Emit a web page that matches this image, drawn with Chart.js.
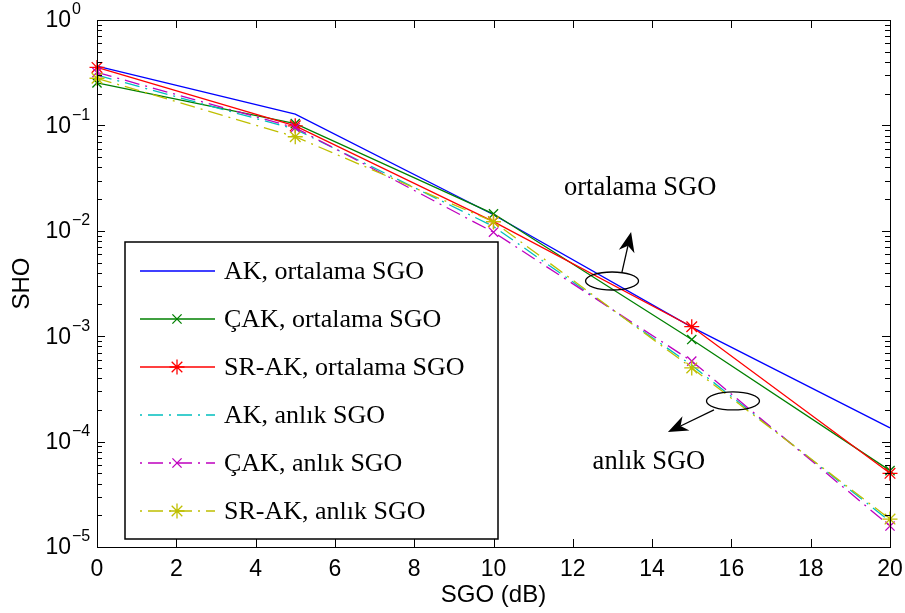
<!DOCTYPE html>
<html>
<head>
<meta charset="utf-8">
<script src="https://cdn.jsdelivr.net/npm/chart.js@4/dist/chart.umd.min.js"></script>
<style>
  html, body { margin: 0; padding: 0; background: #fff; }
  #wrap { width: 905px; height: 613px; position: relative; }
</style>
</head>
<body>
<div id="wrap"><canvas id="chart"></canvas></div>
<script>
// SGO values (dB)
const sgo = [0, 5, 10, 15, 20];

// SHO values
const akOrtalama   = [0.366, 0.128, 0.0142, 0.00122, 0.000135];
const cakOrtalama  = [0.253, 0.104, 0.0145, 0.00093, 0.000053];
const srakOrtalama = [0.355, 0.099, 0.0122, 0.00123, 0.000050];
const akAnlik      = [0.300, 0.092, 0.0110, 0.00053, 0.0000175];
const cakAnlik     = [0.318, 0.095, 0.0097, 0.00058, 0.0000158];
const srakAnlik    = [0.280, 0.078, 0.0122, 0.00050, 0.0000184];

const seriesLabels = [
  'AK, ortalama SGO', 'ÇAK, ortalama SGO', 'SR-AK, ortalama SGO',
  'AK, anlık SGO', 'ÇAK, anlık SGO', 'SR-AK, anlık SGO'
];

const xTicks = [0, 2, 4, 6, 8, 10, 12, 14, 16, 18, 20];
const yDecades = [-5, -4, -3, -2, -1, 0];

const DASHDOT = [15, 6, 2, 6];
const SANS = '"Liberation Sans", Arial, sans-serif';
const SERIF = '"Liberation Serif", "Times New Roman", serif';

const toPoints = (ys) => sgo.map((x, i) => ({ x: x, y: ys[i] }));

const seriesDefs = [
  { data: akOrtalama,   color: '#0000ff', dash: [],      marker: false },
  { data: cakOrtalama,  color: '#008000', dash: [],      marker: 'crossRot' },
  { data: srakOrtalama, color: '#ff0000', dash: [],      marker: 'star' },
  { data: akAnlik,      color: '#00bfbf', dash: DASHDOT, marker: false },
  { data: cakAnlik,     color: '#bf00bf', dash: DASHDOT, marker: 'crossRot' },
  { data: srakAnlik,    color: '#bfbf00', dash: DASHDOT, marker: 'star' },
];

const datasets = seriesDefs.map((s, i) => ({
  label: seriesLabels[i],
  data: toPoints(s.data),
  borderColor: s.color,
  backgroundColor: s.color,
  borderWidth: 1.3,
  borderDash: s.dash,
  pointStyle: s.marker || 'circle',
  pointRadius: s.marker ? (s.marker === 'star' ? 7.5 : 6.5) : 0,
  pointBorderWidth: 1.3,
  pointBorderColor: s.color,
  pointHoverRadius: 0,
  tension: 0,
  clip: false,
  order: 6 - i,
}));

// annotation anchors in data units (SGO, SHO)
const ellipses = [
  { x: 12.99, y: 3.34e-3 },
  { x: 16.04, y: 2.43e-4 },
];
const arrows = [
  { from: { x: 13.24, y: 4.06e-3 }, to: { x: 13.47, y: 9.74e-3 } },
  { from: { x: 15.56, y: 2.0e-4 },  to: { x: 14.40, y: 1.23e-4 } },
];
const notes = [
  { text: 'ortalama SGO', x: 13.70, y: 0.0255 },
  { text: 'anlık SGO',    x: 13.92, y: 6.4e-5 },
];

function drawMarker(ctx, style, x, y, r) {
  ctx.beginPath();
  if (style === 'crossRot' || style === 'star') {
    const o = Math.cos(Math.PI / 4) * r;
    ctx.moveTo(x - o, y - o); ctx.lineTo(x + o, y + o);
    ctx.moveTo(x - o, y + o); ctx.lineTo(x + o, y - o);
  }
  if (style === 'star') {
    ctx.moveTo(x - r, y); ctx.lineTo(x + r, y);
    ctx.moveTo(x, y - r); ctx.lineTo(x, y + r);
  }
  ctx.stroke();
}

const matlabAxes = {
  id: 'matlabAxes',
  afterDraw(chart) {
    const { ctx, chartArea: a, scales: { x, y } } = chart;
    ctx.save();
    ctx.strokeStyle = '#000';
    ctx.lineWidth = 1;
    ctx.setLineDash([]);
    // ticks on all four sides, pointing inward
    ctx.beginPath();
    xTicks.forEach(t => {
      const px = Math.round(x.getPixelForValue(t)) + 0.5;
      ctx.moveTo(px, a.bottom); ctx.lineTo(px, a.bottom - 8);
      ctx.moveTo(px, a.top); ctx.lineTo(px, a.top + 8);
    });
    yDecades.forEach(d => {
      for (let m = 1; m <= 9; m++) {
        const v = m * Math.pow(10, d);
        if (v > 1) break;
        const py = Math.round(y.getPixelForValue(v)) + 0.5;
        const len = m === 1 ? 8 : 5;
        ctx.moveTo(a.left, py); ctx.lineTo(a.left + len, py);
        ctx.moveTo(a.right, py); ctx.lineTo(a.right - len, py);
      }
    });
    ctx.stroke();
    ctx.strokeRect(Math.round(a.left) + 0.5, Math.round(a.top) + 0.5,
                   Math.round(a.right - a.left), Math.round(a.bottom - a.top));

    // y tick labels 10^k
    ctx.fillStyle = '#000';
    yDecades.forEach(d => {
      const py = y.getPixelForValue(Math.pow(10, d));
      ctx.font = '23px ' + SANS;
      ctx.textAlign = 'right';
      ctx.textBaseline = 'middle';
      ctx.fillText('10', 71, py + 1);
      ctx.font = '16px ' + SANS;
      ctx.textAlign = 'left';
      ctx.fillText(d === 0 ? '0' : '\u2212' + Math.abs(d), 72, py - 10);
    });
    ctx.restore();
  },
  afterDatasetsDraw(chart) {
    const { ctx, scales: { x, y } } = chart;
    ctx.save();
    ctx.strokeStyle = '#000';
    ctx.fillStyle = '#000';
    ctx.lineWidth = 1.3;
    ctx.setLineDash([]);

    ellipses.forEach(e => {
      ctx.beginPath();
      ctx.ellipse(x.getPixelForValue(e.x), y.getPixelForValue(e.y), 26.5, 9, 0, 0, Math.PI * 2);
      ctx.stroke();
    });

    arrows.forEach(ar => {
      const x0 = x.getPixelForValue(ar.from.x), y0 = y.getPixelForValue(ar.from.y);
      const x1 = x.getPixelForValue(ar.to.x), y1 = y.getPixelForValue(ar.to.y);
      const ang = Math.atan2(y1 - y0, x1 - x0);
      const L = 20, W = 8, back = 6;
      ctx.beginPath();
      ctx.moveTo(x0, y0);
      ctx.lineTo(x1 - Math.cos(ang) * (L - back), y1 - Math.sin(ang) * (L - back));
      ctx.stroke();
      const bx = x1 - Math.cos(ang) * L, by = y1 - Math.sin(ang) * L;
      const nx = -Math.sin(ang), ny = Math.cos(ang);
      ctx.beginPath();
      ctx.moveTo(x1, y1);
      ctx.lineTo(bx + nx * W, by + ny * W);
      ctx.lineTo(x1 - Math.cos(ang) * (L - back), y1 - Math.sin(ang) * (L - back));
      ctx.lineTo(bx - nx * W, by - ny * W);
      ctx.closePath();
      ctx.fill();
    });

    ctx.font = '26.5px ' + SERIF;
    ctx.textAlign = 'center';
    ctx.textBaseline = 'middle';
    notes.forEach(n => {
      ctx.fillText(n.text, x.getPixelForValue(n.x), y.getPixelForValue(n.y));
    });

    // legend box inside the axes
    const lx = 125, ly = 242, lw = 373, lh = 297;
    ctx.fillStyle = '#fff';
    ctx.fillRect(lx, ly, lw, lh);
    ctx.lineWidth = 1.5;
    ctx.strokeRect(lx, ly, lw, lh);
    ctx.font = '26px ' + SERIF;
    chart.data.datasets.forEach((ds, i) => {
      const cy = 271 + i * 48;
      ctx.strokeStyle = ds.borderColor;
      ctx.lineWidth = 1.3;
      ctx.setLineDash(ds.borderDash);
      ctx.lineDashOffset = ds.borderDash.length ? 21 : 0; // start sample with the dot
      ctx.beginPath();
      ctx.moveTo(140, cy); ctx.lineTo(215, cy);
      ctx.stroke();
      ctx.setLineDash([]);
      ctx.lineDashOffset = 0;
      if (ds.pointRadius > 0) drawMarker(ctx, ds.pointStyle, 177, cy, ds.pointRadius);
      ctx.fillStyle = '#000';
      ctx.textAlign = 'left';
      ctx.fillText(ds.label, 224, cy + 1);
    });
    ctx.restore();
  }
};

new Chart(document.getElementById('chart'), {
  type: 'line',
  data: { datasets: datasets },
  options: {
    responsive: true,
    maintainAspectRatio: false,
    animation: false,
    events: [],
    layout: { padding: { top: 20, right: 15, left: 0, bottom: 0 } },
    plugins: { legend: { display: false }, tooltip: { enabled: false } },
    scales: {
      x: {
        type: 'linear',
        min: 0,
        max: 20,
        afterBuildTicks: (s) => { s.ticks = xTicks.map(v => ({ value: v })); },
        afterFit: (s) => { s.height = 66; s.paddingLeft = 0; s.paddingRight = 0; },
        grid: { display: false, drawTicks: false },
        border: { display: false },
        ticks: {
          padding: 9,
          color: '#000',
          maxRotation: 0,
          font: { family: SANS, size: 23 },
        },
        title: {
          display: true,
          text: 'SGO (dB)',
          color: '#000',
          padding: { top: 0, bottom: 3 },
          font: { family: SANS, size: 24 },
        },
      },
      y: {
        type: 'logarithmic',
        min: 1e-5,
        max: 1,
        afterFit: (s) => { s.width = 97; s.paddingTop = 0; s.paddingBottom = 0; },
        grid: { display: false, drawTicks: false },
        border: { display: false },
        ticks: { display: false },
        title: {
          display: true,
          text: 'SHO',
          color: '#000',
          padding: { top: 8, bottom: 0 },
          font: { family: SANS, size: 24 },
        },
      },
    },
  },
  plugins: [matlabAxes],
});
</script>
</body>
</html>
